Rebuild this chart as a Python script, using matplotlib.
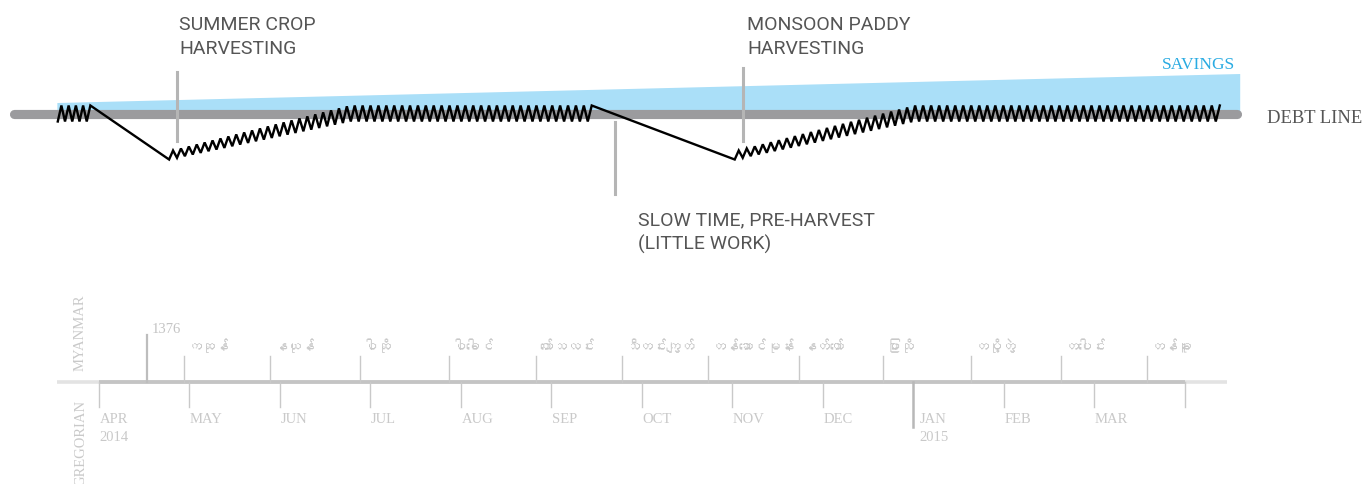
import numpy as np
import matplotlib
matplotlib.use('Agg')
import matplotlib.pyplot as plt
from matplotlib import font_manager, ft2font

# Months are counted from 1 April 2014 (0 = APR, 12 = next APR)
greg_months = ['APR', 'MAY', 'JUN', 'JUL', 'AUG', 'SEP', 'OCT', 'NOV', 'DEC', 'JAN', 'FEB', 'MAR']
greg_years = {0: '2014', 9: '2015'}
mm_months = ['ကဆုန်', 'နယုန်', 'ဝါဆို', 'ဝါခေါင်', 'တော်သလင်း', 'သီတင်းကျွတ်',
             'တန်ဆောင်မုန်း', 'နတ်တော်', 'ပြာသို', 'တပို့တွဲ', 'တပေါင်း', 'တန်ခူး']
mm_starts = [0.95, 1.90, 2.89, 3.87, 4.83, 5.79, 6.74, 7.74, 8.67, 9.64, 10.64, 11.59]
mm_year = '1376'
mm_year_start = 0.54

# Debt level (0 = debt line), three stretches of day-to-day work
run_months = [[-0.45, -0.09], [0.78, 2.78, 5.45], [7.03, 9.02, 12.39]]
run_level = [[0, 0], [-42, 0, 0], [-42, 0, 0]]
run_swing = [[8, 8], [4, 8, 8], [4, 8, 8]]

savings_months = [-0.46, 12.61]
savings_top = [11, 40]
debt_line_months = [-0.93, 12.58]

# events: text, marker month, marker top/bottom level, text month, text level
ev_text = ['SUMMER CROP\nHARVESTING', 'MONSOON PADDY\nHARVESTING', 'SLOW TIME, PRE-HARVEST\n(LITTLE WORK)']
ev_month = [0.87, 7.12, 5.71]
ev_top = [41.5, 45.5, -8.5]
ev_bottom = [-27.5, -27.2, -80.5]
ev_text_month = [0.89, 7.17, 5.96]
ev_text_level = [98.5, 98.5, -96.5]

# layout: pixel position of month 0 and pixels per month
W, H = 1363, 485
x0_px, px_month = 98.5, 90.5
debt_y_px = 114.5
zig_step = 4 / px_month   # half period of the wiggle

# look for a font that has Myanmar glyphs
mm_font = None
for f in font_manager.fontManager.ttflist:
    if 'CJK' in f.name:
        continue
    try:
        if ft2font.FT2Font(f.fname).get_char_index(0x1000):
            mm_font = f.name
            break
    except Exception:
        pass
mm_family = [mm_font, 'DejaVu Sans'] if mm_font else ['DejaVu Sans']

serif = 'Liberation Serif'
light = '#c9c9c9'

fig = plt.figure(figsize=(W / 100, H / 100), dpi=100)
xlim = (-x0_px / px_month, (W - x0_px) / px_month)

ax = fig.add_axes([0, 0, 1, 1])
ax.set_xlim(xlim)
ax.set_ylim(debt_y_px - H, debt_y_px)
ax.axis('off')

cal = fig.add_axes([0, 0, 1, 1])
cal.set_xlim(xlim)
cal.set_ylim(H, 0)
cal.axis('off')
cal.patch.set_alpha(0)

# savings wedge
ax.fill_between(savings_months, 0, savings_top, color='#aadff8', lw=0, zorder=1)
ax.text(savings_months[1] - 0.05, 45, 'SAVINGS', color='#29abe2', family=serif,
        fontsize=12.5, ha='right', va='baseline')

# debt line
ax.plot(debt_line_months, [0, 0], color='#9b9b9e', lw=6.6, solid_capstyle='round', zorder=2)
ax.text(debt_line_months[1] + 0.33, -8.2, 'DEBT LINE', color='#555555', family=serif,
        fontsize=13.4, ha='left', va='baseline')

# event markers
for t, m, top, bot, tm, tl in zip(ev_text, ev_month, ev_top, ev_bottom, ev_text_month, ev_text_level):
    ax.plot([m, m], [bot, top], color='#b5b5b5', lw=2.2, zorder=3)
    ax.text(tm, tl, t, family='Roboto', fontsize=14, color='#555555',
            ha='left', va='top', linespacing=1.42)

# wiggly debt path
def zigzag(months, level, swing):
    n = int(round((months[-1] - months[0]) / zig_step))
    if n % 2 == 0:
        n += 1
    xs = np.linspace(months[0], months[-1], n + 1)
    sign = np.where(np.arange(n + 1) % 2 == 0, -1, 1)
    return xs, np.interp(xs, months, level) + sign * np.interp(xs, months, swing)

px, py = [], []
for m, lv, sw in zip(run_months, run_level, run_swing):
    xs, ys = zigzag(m, lv, sw)
    px.extend(xs)
    py.extend(ys)
ax.plot(px, py, color='black', lw=1.7, solid_joinstyle='miter', zorder=4)

# calendar strip
line_y = 382.7
cal.plot([-0.46, 12.47], [line_y, line_y], color='#e3e3e3', lw=2.6, solid_capstyle='butt')
cal.plot([0, 12], [line_y, line_y], color='#c4c4c4', lw=2.7, solid_capstyle='butt')

for i in range(13):
    if i == 9:
        cal.plot([i, i], [line_y, 428], color='#b8b8b8', lw=1.8)
    else:
        cal.plot([i, i], [line_y, 408], color=light, lw=1.0)
for i, name in enumerate(greg_months):
    lab = name + ('\n' + greg_years[i] if i in greg_years else '')
    cal.text(i + 0.07 if i == 9 else i + 0.01, 413, lab, family=serif, fontsize=10.5,
             color=light, ha='left', va='top', linespacing=1.55)

cal.plot([mm_year_start] * 2, [335.7, line_y], color='#bdbdbd', lw=1.6)
cal.text(mm_year_start + 0.05, 332.7, mm_year, family=serif, fontsize=10.5,
         color='#c4c4c4', ha='left', va='baseline')
for m, name in zip(mm_starts, mm_months):
    cal.plot([m, m], [357, line_y], color=light, lw=1.0)
    cal.text(m + 0.04, 351, name, family=mm_family, fontsize=10, color=light,
             ha='left', va='baseline')

cal.text(-0.2, 333, 'MYANMAR', family=serif, fontsize=10.5, color=light,
         rotation=90, ha='center', va='center')
cal.text(-0.2, 400, 'GREGORIAN', family=serif, fontsize=10.5, color=light,
         rotation=90, ha='center', va='top')

fig.savefig('out.png', dpi=100)
